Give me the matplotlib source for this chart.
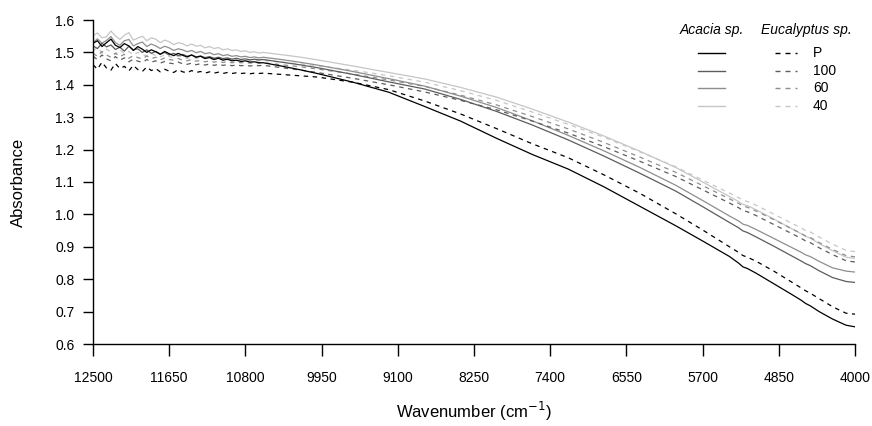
import matplotlib
matplotlib.use('Agg')
import matplotlib.pyplot as plt
import numpy as np

plt.rcParams['font.family'] = ['Liberation Sans', 'DejaVu Sans']

# wavenumbers (cm-1): noisy part every 50, then coarser smooth part
wn_noisy = list(range(12500, 10550, -50))
wn_smooth = [10400, 10200, 10000, 9600, 9200, 8800, 8400, 8000, 7600, 7200, 6800,
             6400, 6000, 5700, 5400, 5300, 5250, 5200, 5100, 4900, 4700, 4600,
             4550, 4500, 4400, 4250, 4100, 4000]
wavenumber = np.array(wn_noisy + wn_smooth)

# Acacia sp. (solid)
acacia_p = [1.528, 1.536, 1.518, 1.530, 1.541, 1.522, 1.515, 1.527, 1.520, 1.506,
            1.518, 1.510, 1.500, 1.508, 1.502, 1.494, 1.503, 1.496, 1.490, 1.497,
            1.491, 1.486, 1.492, 1.485, 1.488, 1.481, 1.484, 1.478, 1.482, 1.476,
            1.479, 1.474, 1.476, 1.472, 1.474, 1.470, 1.471, 1.468, 1.468,
            1.458, 1.447, 1.435, 1.408, 1.377, 1.333, 1.288, 1.235, 1.185, 1.140,
            1.085, 1.025, 0.965, 0.918, 0.870, 0.850, 0.838, 0.833, 0.818, 0.785,
            0.752, 0.735, 0.725, 0.718, 0.700, 0.677, 0.658, 0.653]
acacia_100 = [1.520, 1.512, 1.528, 1.517, 1.523, 1.509, 1.516, 1.504, 1.519, 1.508,
              1.511, 1.500, 1.508, 1.497, 1.503, 1.495, 1.500, 1.492, 1.497, 1.490,
              1.494, 1.488, 1.492, 1.486, 1.489, 1.484, 1.487, 1.482, 1.485, 1.481,
              1.483, 1.479, 1.482, 1.478, 1.480, 1.477, 1.479, 1.477, 1.478,
              1.470, 1.462, 1.453, 1.432, 1.409, 1.387, 1.355, 1.318, 1.276, 1.230,
              1.180, 1.127, 1.072, 1.024, 0.975, 0.959, 0.949, 0.944, 0.930, 0.901,
              0.871, 0.856, 0.848, 0.842, 0.826, 0.805, 0.793, 0.790]
acacia_60 = [1.530, 1.542, 1.528, 1.537, 1.549, 1.530, 1.522, 1.536, 1.540, 1.520,
             1.527, 1.532, 1.518, 1.526, 1.520, 1.512, 1.519, 1.514, 1.506, 1.511,
             1.508, 1.502, 1.506, 1.499, 1.503, 1.496, 1.499, 1.493, 1.496, 1.490,
             1.493, 1.488, 1.490, 1.486, 1.488, 1.484, 1.486, 1.483, 1.485,
             1.478, 1.470, 1.461, 1.441, 1.419, 1.396, 1.365, 1.330, 1.289, 1.244,
             1.196, 1.145, 1.090, 1.043, 0.995, 0.980, 0.970, 0.966, 0.953, 0.925,
             0.897, 0.883, 0.875, 0.870, 0.855, 0.835, 0.825, 0.822]
acacia_40 = [1.552, 1.560, 1.545, 1.548, 1.566, 1.551, 1.540, 1.553, 1.561, 1.538,
             1.544, 1.550, 1.536, 1.545, 1.541, 1.530, 1.538, 1.533, 1.524, 1.530,
             1.527, 1.520, 1.526, 1.519, 1.522, 1.514, 1.518, 1.512, 1.515, 1.508,
             1.511, 1.506, 1.508, 1.503, 1.505, 1.500, 1.502, 1.498, 1.500,
             1.493, 1.486, 1.477, 1.458, 1.438, 1.418, 1.392, 1.362, 1.325, 1.285,
             1.242, 1.195, 1.145, 1.100, 1.055, 1.040, 1.031, 1.027, 1.014, 0.985,
             0.955, 0.940, 0.932, 0.927, 0.910, 0.888, 0.868, 0.864]

# Eucalyptus sp. (dashed)
eucal_p = [1.462, 1.448, 1.470, 1.452, 1.445, 1.466, 1.450, 1.457, 1.443, 1.460,
           1.447, 1.441, 1.455, 1.444, 1.450, 1.440, 1.448, 1.442, 1.438, 1.447,
           1.440, 1.437, 1.444, 1.438, 1.441, 1.436, 1.440, 1.436, 1.439, 1.435,
           1.438, 1.435, 1.437, 1.435, 1.436, 1.434, 1.436, 1.435, 1.436,
           1.432, 1.428, 1.424, 1.408, 1.385, 1.350, 1.310, 1.265, 1.218, 1.175,
           1.122, 1.065, 1.002, 0.952, 0.900, 0.883, 0.873, 0.868, 0.855, 0.824,
           0.790, 0.773, 0.764, 0.757, 0.740, 0.715, 0.695, 0.692]
eucal_100 = [1.488, 1.478, 1.492, 1.480, 1.474, 1.487, 1.476, 1.483, 1.471, 1.479,
             1.473, 1.469, 1.478, 1.470, 1.474, 1.467, 1.472, 1.467, 1.465, 1.470,
             1.465, 1.463, 1.467, 1.462, 1.465, 1.461, 1.464, 1.460, 1.463, 1.460,
             1.462, 1.459, 1.461, 1.459, 1.460, 1.458, 1.460, 1.459, 1.460,
             1.453, 1.446, 1.438, 1.420, 1.400, 1.378, 1.352, 1.323, 1.288, 1.251,
             1.209, 1.164, 1.117, 1.076, 1.035, 1.021, 1.012, 1.008, 0.996, 0.968,
             0.940, 0.926, 0.918, 0.913, 0.897, 0.876, 0.857, 0.853]
eucal_60 = [1.497, 1.488, 1.503, 1.492, 1.485, 1.498, 1.487, 1.494, 1.482, 1.490,
            1.484, 1.480, 1.489, 1.481, 1.485, 1.477, 1.483, 1.478, 1.476, 1.481,
            1.476, 1.474, 1.478, 1.473, 1.475, 1.471, 1.474, 1.470, 1.472, 1.469,
            1.471, 1.468, 1.470, 1.468, 1.469, 1.467, 1.468, 1.467, 1.468,
            1.462, 1.456, 1.449, 1.433, 1.415, 1.395, 1.368, 1.338, 1.302, 1.264,
            1.222, 1.177, 1.130, 1.089, 1.048, 1.034, 1.026, 1.022, 1.010, 0.983,
            0.955, 0.941, 0.933, 0.929, 0.913, 0.892, 0.873, 0.869]
eucal_40 = [1.505, 1.515, 1.498, 1.510, 1.502, 1.494, 1.508, 1.497, 1.503, 1.492,
            1.500, 1.494, 1.489, 1.497, 1.490, 1.486, 1.493, 1.487, 1.484, 1.489,
            1.485, 1.481, 1.486, 1.482, 1.480, 1.484, 1.480, 1.478, 1.481, 1.478,
            1.477, 1.479, 1.476, 1.476, 1.477, 1.475, 1.475, 1.474, 1.475,
            1.470, 1.465, 1.459, 1.445, 1.428, 1.408, 1.382, 1.352, 1.316, 1.278,
            1.238, 1.193, 1.147, 1.106, 1.066, 1.052, 1.044, 1.040, 1.028, 1.000,
            0.972, 0.958, 0.950, 0.946, 0.930, 0.908, 0.889, 0.885]

levels = ['P', '100', '60', '40']
acacia = [acacia_p, acacia_100, acacia_60, acacia_40]
eucal = [eucal_p, eucal_100, eucal_60, eucal_40]
colors = ['#000000', '#5c5c5c', '#8e8e8e', '#c6c6c6']

xticks = [12500, 11650, 10800, 9950, 9100, 8250, 7400, 6550, 5700, 4850, 4000]
yticks = [0.6, 0.7, 0.8, 0.9, 1.0, 1.1, 1.2, 1.3, 1.4, 1.5, 1.6]

fig = plt.figure(figsize=(8.72, 4.26), dpi=100)
ax = fig.add_axes([93 / 872, 1 - 344 / 426, 762 / 872, 324 / 426])

# draw lightest first so black sits on top
for i in reversed(range(4)):
    ax.plot(wavenumber, eucal[i], color=colors[i], linewidth=0.9, dashes=(3.6, 3.6))
    ax.plot(wavenumber, acacia[i], color=colors[i], linewidth=0.9)

ax.set_xlim(12500, 4000)
ax.set_ylim(0.6, 1.6)
ax.set_xticks(xticks)
ax.set_xticklabels([str(t) for t in xticks])
ax.set_yticks(yticks)
ax.set_yticklabels([f'{t:.1f}' for t in yticks])
for s in ['top', 'right']:
    ax.spines[s].set_visible(False)
for s in ['left', 'bottom']:
    ax.spines[s].set_linewidth(1.0)
ax.tick_params(axis='x', direction='out', length=8.5, width=1.0, pad=11, labelsize=10)
ax.tick_params(axis='y', direction='out', length=7.5, width=1.0, pad=6, labelsize=10)

ax.set_xlabel('Wavenumber (cm$^{-1}$)', fontsize=12, labelpad=11)
ax.set_ylabel('Absorbance', fontsize=12, labelpad=21)

# legend drawn by hand: two headers, solid and dashed samples, level labels
ax.text(0.812, 0.969, 'Acacia sp.', style='italic', fontsize=10,
        ha='center', va='center', transform=ax.transAxes)
ax.text(0.936, 0.969, 'Eucalyptus sp.', style='italic', fontsize=10,
        ha='center', va='center', transform=ax.transAxes)
row_y = [0.898, 0.843, 0.790, 0.735]
for i, lev in enumerate(levels):
    ax.plot([0.794, 0.829], [row_y[i]] * 2, color=colors[i], linewidth=1.0,
            transform=ax.transAxes, clip_on=False)
    ax.plot([0.895, 0.924], [row_y[i]] * 2, color=colors[i], linewidth=1.0,
            dashes=(3.6, 3.6), transform=ax.transAxes, clip_on=False)
    ax.text(0.945, row_y[i], lev, fontsize=10, ha='left', va='center',
            transform=ax.transAxes)

fig.savefig('out.png', dpi=100)
